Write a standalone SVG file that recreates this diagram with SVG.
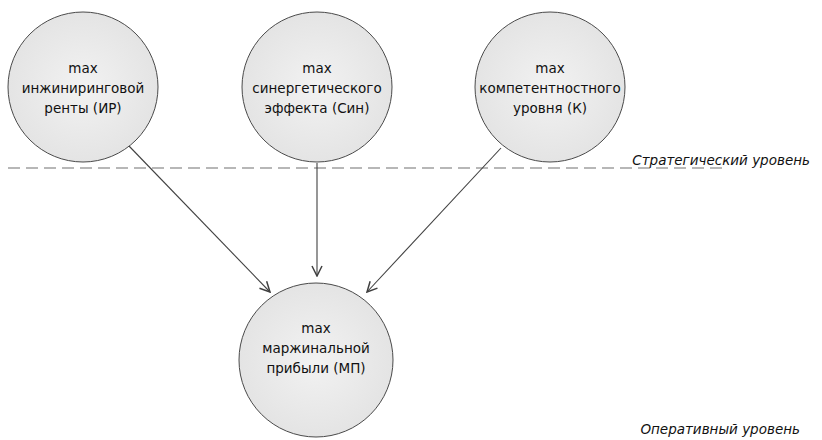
<svg xmlns="http://www.w3.org/2000/svg" width="822" height="440" viewBox="0 0 822 440">
<defs>
<radialGradient id="g" cx="0.5" cy="0.5" r="0.5">
<stop offset="0" stop-color="#f2f2f2"/>
<stop offset="1" stop-color="#e4e4e4"/>
</radialGradient>
<marker id="arr" viewBox="0 0 12 12" refX="11" refY="6" markerWidth="12" markerHeight="12" markerUnits="userSpaceOnUse" orient="auto">
<path d="M1,1 L11,6 L1,11" fill="none" stroke="#404040" stroke-width="1.5"/>
</marker>
<style>
.n{fill:url(#g);stroke:#4a4a4a;stroke-width:1}
.t{font-family:"DejaVu Sans",Verdana,sans-serif;font-size:13.5px;fill:#111;text-anchor:middle}
.lv{font-family:"DejaVu Sans",Verdana,sans-serif;font-size:13.5px;font-style:italic;fill:#111}
.c{stroke:#404040;stroke-width:1.1;fill:none;marker-end:url(#arr)}
</style>
</defs>
<line x1="8" y1="168" x2="724" y2="168" stroke="#707070" stroke-width="1.2" stroke-dasharray="12 6"/>
<text class="lv" x="810" y="165" text-anchor="end">Стратегический уровень</text>
<text class="lv" x="800" y="434" text-anchor="end">Оперативный уровень</text>
<g id="connectors">
<line class="c" x1="129" y1="146" x2="270" y2="292"/>
<line class="c" x1="317" y1="163" x2="317" y2="276"/>
<line class="c" x1="501" y1="148" x2="367" y2="292"/>
</g>
<g id="n1">
<circle class="n" cx="83" cy="87" r="75"/>
<text class="t" x="83" y="73">max</text>
<text class="t" x="83" y="93">инжиниринговой</text>
<text class="t" x="83" y="113">ренты (ИР)</text>
</g>
<g id="n2">
<circle class="n" cx="317" cy="87" r="75"/>
<text class="t" x="317" y="73">max</text>
<text class="t" x="317" y="93">синергетического</text>
<text class="t" x="317" y="113">эффекта (Син)</text>
</g>
<g id="n3">
<circle class="n" cx="550" cy="87" r="75"/>
<text class="t" x="550" y="73">max</text>
<text class="t" x="550" y="93">компетентностного</text>
<text class="t" x="550" y="113">уровня (К)</text>
</g>
<g id="n4">
<circle class="n" cx="316" cy="360" r="77"/>
<text class="t" x="316" y="333">max</text>
<text class="t" x="316" y="353">маржинальной</text>
<text class="t" x="316" y="373">прибыли (МП)</text>
</g>
</svg>
